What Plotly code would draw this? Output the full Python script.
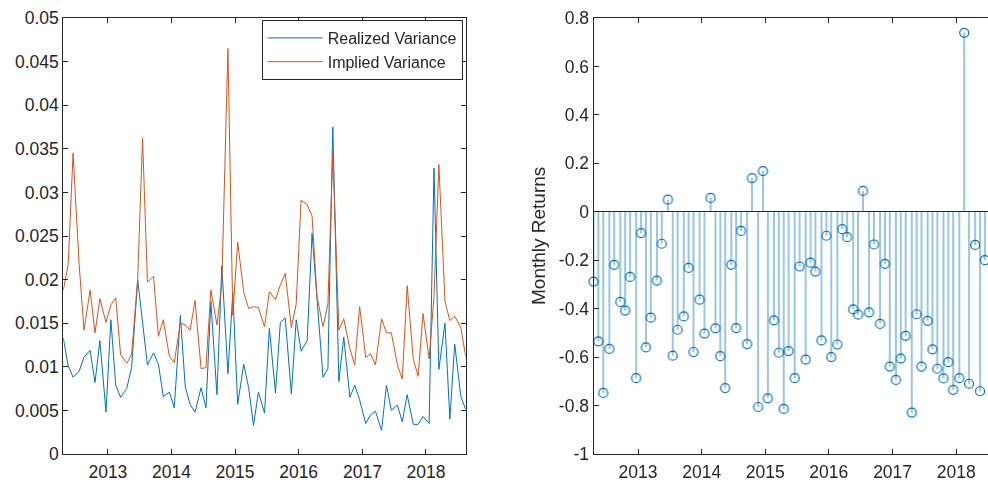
import pandas as pd
import plotly.graph_objects as go

# ---- data ----
dates = pd.date_range("2012-04-01", "2018-08-31", freq="WOM-3FRI")  # monthly (3rd Friday)

realized_variance = [
    0.0133, 0.0101, 0.0088, 0.0095, 0.0111, 0.0119, 0.0082, 0.0130, 0.0048, 0.0154,
    0.0079, 0.0065, 0.0075, 0.0099, 0.0200, 0.0149, 0.0102, 0.0116, 0.0103, 0.0066,
    0.0071, 0.0053, 0.0159, 0.0077, 0.0057, 0.0048, 0.0076, 0.0053, 0.0175, 0.0068,
    0.0216, 0.0092, 0.0185, 0.0057, 0.0103, 0.0076, 0.0033, 0.0071, 0.0047, 0.0144,
    0.0070, 0.0151, 0.0156, 0.0069, 0.0154, 0.0118, 0.0130, 0.0253, 0.0181, 0.0088,
    0.0098, 0.0375, 0.0083, 0.0134, 0.0065, 0.0079, 0.0062, 0.0035, 0.0045, 0.0049,
    0.0027, 0.0079, 0.0050, 0.0056, 0.0037, 0.0068, 0.0034, 0.0034, 0.0043, 0.0035,
    0.0328, 0.0097, 0.0150, 0.0040, 0.0126, 0.0066, 0.0051,
]

implied_variance = [
    0.0188, 0.0217, 0.0345, 0.0217, 0.0142, 0.0188, 0.0139, 0.0178, 0.0151, 0.0171,
    0.0179, 0.0114, 0.0104, 0.0114, 0.0200, 0.0362, 0.0197, 0.0204, 0.0135, 0.0154,
    0.0112, 0.0105, 0.0150, 0.0148, 0.0142, 0.0176, 0.0098, 0.0099, 0.0188, 0.0148,
    0.0195, 0.0465, 0.0159, 0.0243, 0.0185, 0.0167, 0.0169, 0.0168, 0.0146, 0.0186,
    0.0177, 0.0194, 0.0207, 0.0145, 0.0172, 0.0291, 0.0286, 0.0273, 0.0181, 0.0146,
    0.0172, 0.0345, 0.0142, 0.0155, 0.0121, 0.0102, 0.0169, 0.0111, 0.0115, 0.0102,
    0.0155, 0.0139, 0.0139, 0.0102, 0.0086, 0.0193, 0.0109, 0.0089, 0.0161, 0.0109,
    0.0181, 0.0332, 0.0175, 0.0153, 0.0158, 0.0145, 0.0112,
]

monthly_returns = [
    -0.288, -0.535, -0.748, -0.566, -0.219, -0.372, -0.408, -0.269, -0.687, -0.088,
    -0.560, -0.437, -0.284, -0.132, 0.050, -0.594, -0.487, -0.432, -0.232, -0.579,
    -0.363, -0.503, 0.057, -0.481, -0.596, -0.728, -0.219, -0.480, -0.079, -0.546,
    0.139, -0.806, 0.168, -0.770, -0.448, -0.582, -0.814, -0.575, -0.687, -0.226,
    -0.610, -0.210, -0.247, -0.531, -0.099, -0.600, -0.548, -0.072, -0.105, -0.403,
    -0.425, 0.086, -0.415, -0.135, -0.463, -0.215, -0.639, -0.694, -0.606, -0.512,
    -0.829, -0.423, -0.639, -0.450, -0.568, -0.648, -0.688, -0.621, -0.735, -0.687,
    0.739, -0.710, -0.137, -0.741, -0.200, -0.550,
]

year_ticks = ["2013-01-01", "2014-01-01", "2015-01-01", "2016-01-01", "2017-01-01", "2018-01-01"]
year_labels = ["2013", "2014", "2015", "2016", "2017", "2018"]
var_ticks = [0, 0.005, 0.01, 0.015, 0.02, 0.025, 0.03, 0.035, 0.04, 0.045, 0.05]
var_labels = ["0", "0.005", "0.01", "0.015", "0.02", "0.025", "0.03", "0.035", "0.04", "0.045", "0.05"]
ret_ticks = [-1, -0.8, -0.6, -0.4, -0.2, 0, 0.2, 0.4, 0.6, 0.8]
ret_labels = ["-1", "-0.8", "-0.6", "-0.4", "-0.2", "0", "0.2", "0.4", "0.6", "0.8"]

# ---- styling ----
W, H = 988, 487
BLUE = "#0072BD"
ORANGE = "#D95319"
AX = "#262626"
FONT = "Liberation Sans, Arial, Helvetica, sans-serif"
TICKFONT = dict(family=FONT, size=17.5, color=AX)

left_px = (63.3, 465.7)
right_start_px = 593.5
plot_top, plot_bot = 18, 454

d0, d1 = dates[0], dates[-1]
px_per_ns = (left_px[1] - left_px[0]) / (d1 - d0).value
right_end = d0 + pd.Timedelta(int((W - right_start_px) / px_per_ns), "ns")

x_ret = list(dates[: len(monthly_returns)])

fig = go.Figure()

fig.add_trace(go.Scatter(x=dates, y=realized_variance, mode="lines", name="Realized Variance",
                         line=dict(color=BLUE, width=1), xaxis="x", yaxis="y"))
fig.add_trace(go.Scatter(x=dates, y=implied_variance, mode="lines", name="Implied Variance",
                         line=dict(color=ORANGE, width=1), xaxis="x", yaxis="y"))

# stems
sx, sy = [], []
for d, v in zip(x_ret, monthly_returns):
    sx += [d, d, None]
    sy += [0, v, None]
fig.add_trace(go.Scatter(x=sx, y=sy, mode="lines", line=dict(color=BLUE, width=1),
                         showlegend=False, xaxis="x2", yaxis="y2", opacity=0.8))
fig.add_trace(go.Scatter(x=x_ret, y=monthly_returns, mode="markers",
                         marker=dict(symbol="circle-open", size=9, color=BLUE, line=dict(width=1.2)),
                         showlegend=False, xaxis="x2", yaxis="y2", cliponaxis=False))

ydom = [(H - plot_bot) / H, (H - plot_top) / H]
common_x = dict(type="date", showline=True, linecolor=AX, linewidth=1, mirror="ticks",
                ticks="inside", ticklen=5, tickcolor=AX, tickwidth=1, showgrid=False,
                zeroline=False, tickfont=TICKFONT, tickvals=year_ticks, ticktext=year_labels,
                automargin=False, ticklabelstandoff=2)
common_y = dict(showline=True, linecolor=AX, linewidth=1, ticks="inside", ticklen=5,
                tickcolor=AX, tickwidth=1, showgrid=False, tickfont=TICKFONT, domain=ydom,
                automargin=False)

fig.update_layout(
    width=W, height=H,
    margin=dict(l=0, r=0, t=0, b=0, autoexpand=False),
    paper_bgcolor="white", plot_bgcolor="white",
    font=dict(family=FONT, color=AX),
    xaxis=dict(domain=[left_px[0] / W, left_px[1] / W], range=[d0, d1], anchor="y", **common_x),
    yaxis=dict(range=[0, 0.05], tickvals=var_ticks, ticktext=var_labels, anchor="x",
               mirror="ticks", zeroline=False, **common_y),
    xaxis2=dict(domain=[right_start_px / W, 1.0], range=[d0, right_end], anchor="y2", **common_x),
    yaxis2=dict(range=[-1, 0.8], tickvals=ret_ticks, ticktext=ret_labels, anchor="x2",
                mirror=False, zeroline=True, zerolinecolor=AX, zerolinewidth=1, **common_y),
    legend=dict(x=261.7 / W, y=1 - 20 / H, xanchor="left", yanchor="top",
                bgcolor="white", bordercolor=AX, borderwidth=1,
                font=dict(family=FONT, size=16, color=AX), itemwidth=55,
                tracegroupgap=0),
    annotations=[dict(text="Monthly Returns", textangle=-90, x=538 / W, y=1 - 236 / H,
                      xref="paper", yref="paper", showarrow=False,
                      font=dict(family=FONT, size=19, color=AX))],
)

fig.write_html("out.html")
